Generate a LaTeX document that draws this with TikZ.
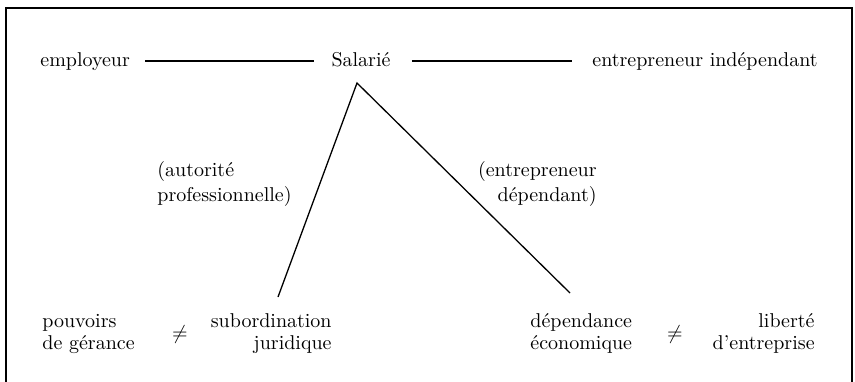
\documentclass[tikz,border=0pt]{standalone}
\usepackage{fontspec}
\begin{document}
\begin{tikzpicture}[x=0.5pt,y=-0.5pt,
  word/.style={inner sep=0pt,text height=7pt,text depth=2pt},
  twoline/.style={inner sep=0pt,font=\fontsize{10}{11}\selectfont},
  remark/.style={twoline,font=\fontsize{10}{12.5}\selectfont},
  edge/.style={line width=0.65pt}]
\useasboundingbox (0,0) rectangle (855,381);
% frame (lower edge is cut off)
\draw[line width=0.6pt] (6,395) -- (6,8) -- (852,8) -- (852,395);
% top row
\node[word,anchor=base west] (emp) at (40,66) {employeur};
\node[word,anchor=base] (sal) at (361,66) {Salarié};
\node[word,anchor=base west] (indep) at (592,66) {entrepreneur indépendant};
\draw[edge,shorten <=7.5pt,shorten >=8.5pt] (emp.east) -- (sal.west);
\draw[edge,shorten <=10.5pt,shorten >=10pt] (sal.east) -- (indep.west);
% the two branches
\coordinate (apex) at ([xshift=-2pt,yshift=-8.5pt]sal.base);
\coordinate (footL) at (278,297);
\coordinate (footR) at (570,293);
\draw[edge] (footL) -- (apex) -- (footR);
\node[remark,align=left,anchor=base west] (autor) at (157,201) {(autorité\\professionnelle)};
\node[remark,align=right,anchor=base east] (entdep) at (597,201) {(entrepreneur\\dépendant)};
% bottom row (base = last line)
\node[twoline,align=left,anchor=base west] (pouv) at (42,349) {pouvoirs\\de gérance};
\node (neqL) at (180,334) {$\neq$};
\node[twoline,align=right,anchor=base east] (subord) at (332,349) {subordination\\juridique};
\node[twoline,align=left,anchor=base west] (depend) at (530,349) {dépendance\\économique};
\node (neqR) at (675,334) {$\neq$};
\node[twoline,align=right,anchor=base east] (liberte) at (815,349) {liberté\\d’entreprise};
\end{tikzpicture}
\end{document}
